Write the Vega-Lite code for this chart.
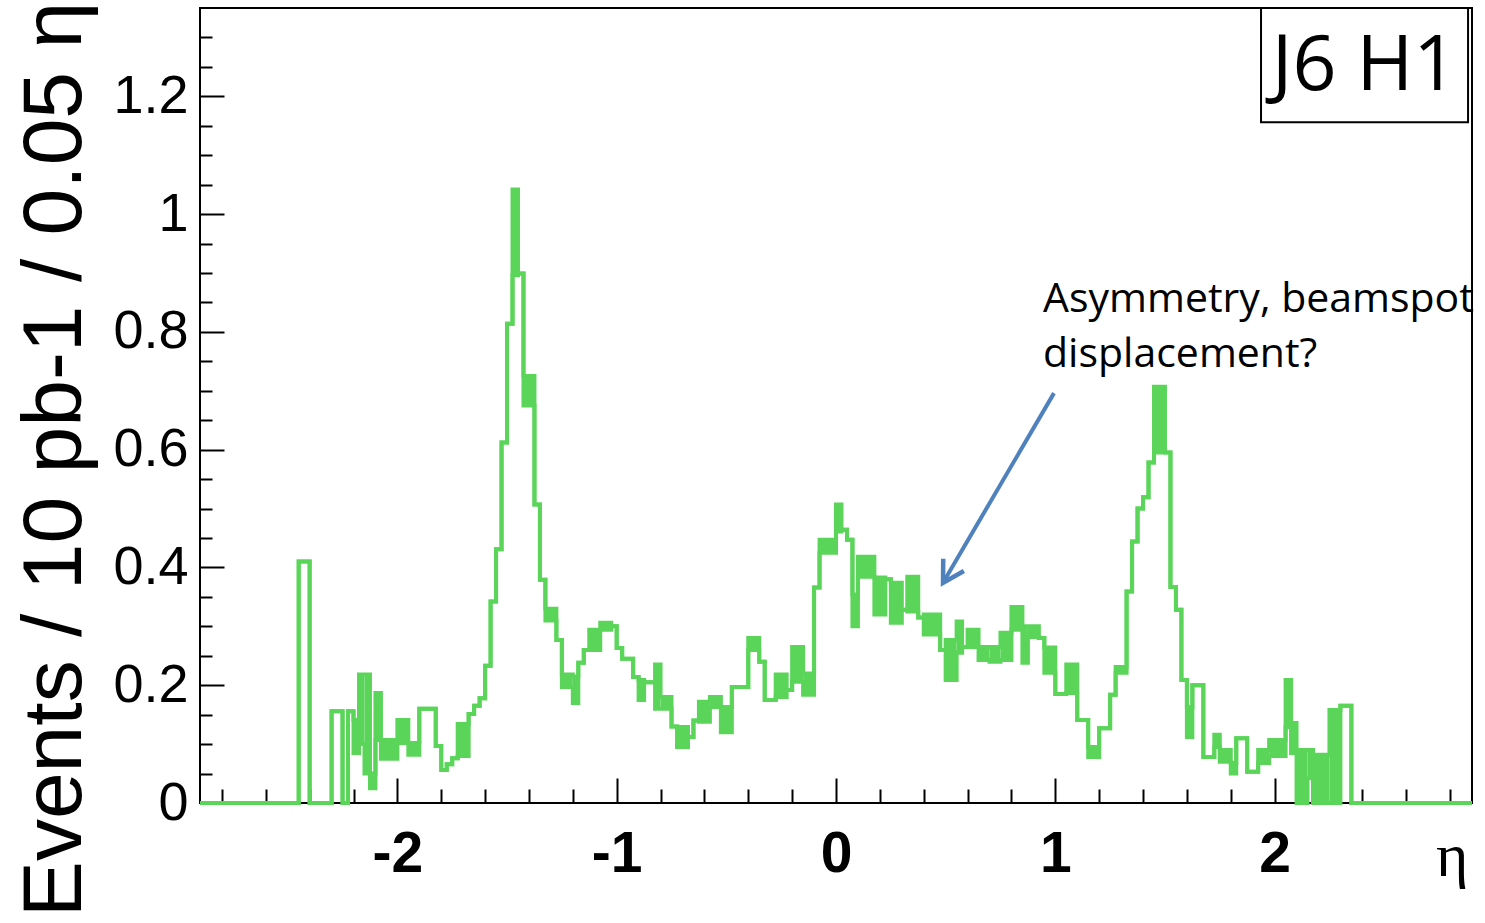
{
  "$schema": "https://vega.github.io/schema/vega-lite/v6.json",
  "width": 1272,
  "height": 795,
  "autosize": "none",
  "padding": {"left": 200, "top": 8, "right": 13, "bottom": 120},
  "background": "white",
  "config": {
    "view": {"stroke": "#000", "strokeWidth": 2},
    "axis": {"domain": false, "grid": false, "tickColor": "#000", "tickWidth": 2, "labelColor": "#000", "titleColor": "#000", "labelFlush": false, "labelOverlap": false}
  },
  "datasets": {
    "hist": [
      {"x0": -2.9, "x1": -2.45, "lo": 0, "hi": 0},
      {"x0": -2.45, "x1": -2.4, "lo": 0.41, "hi": 0.41},
      {"x0": -2.4, "x1": -2.3, "lo": 0, "hi": 0},
      {"x0": -2.3, "x1": -2.25, "lo": 0.156, "hi": 0.156},
      {"x0": -2.25, "x1": -2.225, "lo": 0, "hi": 0},
      {"x0": -2.225, "x1": -2.2, "lo": 0.156, "hi": 0.156},
      {"x0": -2.2, "x1": -2.175, "lo": 0.085, "hi": 0.141},
      {"x0": -2.175, "x1": -2.15, "lo": 0.1, "hi": 0.218},
      {"x0": -2.15, "x1": -2.125, "lo": 0.05, "hi": 0.218},
      {"x0": -2.125, "x1": -2.1, "lo": 0.025, "hi": 0.05},
      {"x0": -2.1, "x1": -2.075, "lo": 0.107, "hi": 0.187},
      {"x0": -2.075, "x1": -2.0, "lo": 0.075, "hi": 0.107},
      {"x0": -2.0, "x1": -1.95, "lo": 0.102, "hi": 0.141},
      {"x0": -1.95, "x1": -1.9, "lo": 0.082, "hi": 0.102},
      {"x0": -1.9, "x1": -1.825, "lo": 0.16, "hi": 0.16},
      {"x0": -1.825, "x1": -1.8, "lo": 0.097, "hi": 0.097},
      {"x0": -1.8, "x1": -1.775, "lo": 0.056, "hi": 0.056},
      {"x0": -1.775, "x1": -1.75, "lo": 0.066, "hi": 0.066},
      {"x0": -1.75, "x1": -1.725, "lo": 0.076, "hi": 0.076},
      {"x0": -1.725, "x1": -1.675, "lo": 0.08, "hi": 0.134},
      {"x0": -1.675, "x1": -1.65, "lo": 0.151, "hi": 0.151},
      {"x0": -1.65, "x1": -1.625, "lo": 0.165, "hi": 0.165},
      {"x0": -1.625, "x1": -1.6, "lo": 0.178, "hi": 0.178},
      {"x0": -1.6, "x1": -1.575, "lo": 0.233, "hi": 0.233},
      {"x0": -1.575, "x1": -1.55, "lo": 0.342, "hi": 0.342},
      {"x0": -1.55, "x1": -1.525, "lo": 0.431, "hi": 0.431},
      {"x0": -1.525, "x1": -1.5, "lo": 0.612, "hi": 0.612},
      {"x0": -1.5, "x1": -1.475, "lo": 0.814, "hi": 0.814},
      {"x0": -1.475, "x1": -1.45, "lo": 0.896, "hi": 1.042},
      {"x0": -1.45, "x1": -1.425, "lo": 0.899, "hi": 0.899},
      {"x0": -1.425, "x1": -1.375, "lo": 0.675, "hi": 0.725},
      {"x0": -1.375, "x1": -1.35, "lo": 0.507, "hi": 0.507},
      {"x0": -1.35, "x1": -1.325, "lo": 0.379, "hi": 0.379},
      {"x0": -1.325, "x1": -1.275, "lo": 0.31, "hi": 0.33},
      {"x0": -1.275, "x1": -1.25, "lo": 0.277, "hi": 0.277},
      {"x0": -1.25, "x1": -1.2, "lo": 0.197, "hi": 0.218},
      {"x0": -1.2, "x1": -1.175, "lo": 0.17, "hi": 0.215},
      {"x0": -1.175, "x1": -1.15, "lo": 0.238, "hi": 0.238},
      {"x0": -1.15, "x1": -1.125, "lo": 0.26, "hi": 0.26},
      {"x0": -1.125, "x1": -1.075, "lo": 0.26, "hi": 0.294},
      {"x0": -1.075, "x1": -1.025, "lo": 0.294, "hi": 0.306},
      {"x0": -1.025, "x1": -1.0, "lo": 0.3, "hi": 0.3},
      {"x0": -1.0, "x1": -0.975, "lo": 0.263, "hi": 0.263},
      {"x0": -0.975, "x1": -0.925, "lo": 0.245, "hi": 0.245},
      {"x0": -0.925, "x1": -0.9, "lo": 0.214, "hi": 0.214},
      {"x0": -0.9, "x1": -0.875, "lo": 0.175, "hi": 0.209},
      {"x0": -0.875, "x1": -0.825, "lo": 0.205, "hi": 0.205},
      {"x0": -0.825, "x1": -0.8, "lo": 0.16, "hi": 0.235},
      {"x0": -0.8, "x1": -0.75, "lo": 0.16, "hi": 0.18},
      {"x0": -0.75, "x1": -0.725, "lo": 0.13, "hi": 0.13},
      {"x0": -0.725, "x1": -0.675, "lo": 0.095, "hi": 0.129},
      {"x0": -0.675, "x1": -0.65, "lo": 0.112, "hi": 0.112},
      {"x0": -0.65, "x1": -0.625, "lo": 0.14, "hi": 0.14},
      {"x0": -0.625, "x1": -0.575, "lo": 0.138, "hi": 0.172},
      {"x0": -0.575, "x1": -0.525, "lo": 0.163, "hi": 0.18},
      {"x0": -0.525, "x1": -0.475, "lo": 0.12, "hi": 0.163},
      {"x0": -0.475, "x1": -0.4, "lo": 0.197, "hi": 0.197},
      {"x0": -0.4, "x1": -0.35, "lo": 0.26, "hi": 0.28},
      {"x0": -0.35, "x1": -0.325, "lo": 0.24, "hi": 0.24},
      {"x0": -0.325, "x1": -0.275, "lo": 0.175, "hi": 0.175},
      {"x0": -0.275, "x1": -0.225, "lo": 0.18, "hi": 0.218},
      {"x0": -0.225, "x1": -0.2, "lo": 0.192, "hi": 0.192},
      {"x0": -0.2, "x1": -0.15, "lo": 0.206, "hi": 0.265},
      {"x0": -0.15, "x1": -0.1, "lo": 0.184, "hi": 0.22},
      {"x0": -0.1, "x1": -0.075, "lo": 0.366, "hi": 0.366},
      {"x0": -0.075, "x1": 0, "lo": 0.425, "hi": 0.447},
      {"x0": 0, "x1": 0.025, "lo": 0.461, "hi": 0.507},
      {"x0": 0.025, "x1": 0.05, "lo": 0.464, "hi": 0.464},
      {"x0": 0.05, "x1": 0.075, "lo": 0.447, "hi": 0.447},
      {"x0": 0.075, "x1": 0.1, "lo": 0.3, "hi": 0.354},
      {"x0": 0.1, "x1": 0.175, "lo": 0.384, "hi": 0.418},
      {"x0": 0.175, "x1": 0.225, "lo": 0.32, "hi": 0.383},
      {"x0": 0.225, "x1": 0.25, "lo": 0.38, "hi": 0.38},
      {"x0": 0.25, "x1": 0.3, "lo": 0.306, "hi": 0.374},
      {"x0": 0.3, "x1": 0.325, "lo": 0.328, "hi": 0.328},
      {"x0": 0.325, "x1": 0.375, "lo": 0.325, "hi": 0.384},
      {"x0": 0.375, "x1": 0.4, "lo": 0.315, "hi": 0.315},
      {"x0": 0.4, "x1": 0.475, "lo": 0.286, "hi": 0.32},
      {"x0": 0.475, "x1": 0.5, "lo": 0.26, "hi": 0.26},
      {"x0": 0.5, "x1": 0.55, "lo": 0.209, "hi": 0.277},
      {"x0": 0.55, "x1": 0.575, "lo": 0.255, "hi": 0.308},
      {"x0": 0.575, "x1": 0.6, "lo": 0.265, "hi": 0.265},
      {"x0": 0.6, "x1": 0.65, "lo": 0.265, "hi": 0.294},
      {"x0": 0.65, "x1": 0.7, "lo": 0.243, "hi": 0.265},
      {"x0": 0.7, "x1": 0.75, "lo": 0.24, "hi": 0.265},
      {"x0": 0.75, "x1": 0.8, "lo": 0.243, "hi": 0.289},
      {"x0": 0.8, "x1": 0.85, "lo": 0.294, "hi": 0.333},
      {"x0": 0.85, "x1": 0.875, "lo": 0.238, "hi": 0.3},
      {"x0": 0.875, "x1": 0.925, "lo": 0.282, "hi": 0.3},
      {"x0": 0.925, "x1": 0.95, "lo": 0.28, "hi": 0.28},
      {"x0": 0.95, "x1": 1.0, "lo": 0.221, "hi": 0.264},
      {"x0": 1.0, "x1": 1.05, "lo": 0.185, "hi": 0.185},
      {"x0": 1.05, "x1": 1.1, "lo": 0.187, "hi": 0.235},
      {"x0": 1.1, "x1": 1.15, "lo": 0.141, "hi": 0.141},
      {"x0": 1.15, "x1": 1.2, "lo": 0.078, "hi": 0.095},
      {"x0": 1.2, "x1": 1.25, "lo": 0.127, "hi": 0.127},
      {"x0": 1.25, "x1": 1.275, "lo": 0.184, "hi": 0.184},
      {"x0": 1.275, "x1": 1.325, "lo": 0.221, "hi": 0.231},
      {"x0": 1.325, "x1": 1.35, "lo": 0.359, "hi": 0.359},
      {"x0": 1.35, "x1": 1.375, "lo": 0.444, "hi": 0.444},
      {"x0": 1.375, "x1": 1.4, "lo": 0.5, "hi": 0.5},
      {"x0": 1.4, "x1": 1.425, "lo": 0.519, "hi": 0.519},
      {"x0": 1.425, "x1": 1.45, "lo": 0.578, "hi": 0.578},
      {"x0": 1.45, "x1": 1.5, "lo": 0.595, "hi": 0.707},
      {"x0": 1.5, "x1": 1.525, "lo": 0.595, "hi": 0.595},
      {"x0": 1.525, "x1": 1.55, "lo": 0.367, "hi": 0.367},
      {"x0": 1.55, "x1": 1.575, "lo": 0.328, "hi": 0.328},
      {"x0": 1.575, "x1": 1.6, "lo": 0.209, "hi": 0.209},
      {"x0": 1.6, "x1": 1.625, "lo": 0.112, "hi": 0.163},
      {"x0": 1.625, "x1": 1.675, "lo": 0.2, "hi": 0.2},
      {"x0": 1.675, "x1": 1.725, "lo": 0.078, "hi": 0.078},
      {"x0": 1.725, "x1": 1.75, "lo": 0.095, "hi": 0.116},
      {"x0": 1.75, "x1": 1.8, "lo": 0.07, "hi": 0.09},
      {"x0": 1.8, "x1": 1.825, "lo": 0.05, "hi": 0.068},
      {"x0": 1.825, "x1": 1.875, "lo": 0.11, "hi": 0.11},
      {"x0": 1.875, "x1": 1.925, "lo": 0.053, "hi": 0.053},
      {"x0": 1.925, "x1": 1.975, "lo": 0.068, "hi": 0.09},
      {"x0": 1.975, "x1": 2.05, "lo": 0.08, "hi": 0.107},
      {"x0": 2.05, "x1": 2.075, "lo": 0.129, "hi": 0.209},
      {"x0": 2.075, "x1": 2.1, "lo": 0.085, "hi": 0.136},
      {"x0": 2.1, "x1": 2.15, "lo": 0, "hi": 0.09},
      {"x0": 2.15, "x1": 2.175, "lo": 0.042, "hi": 0.09},
      {"x0": 2.175, "x1": 2.25, "lo": 0, "hi": 0.082},
      {"x0": 2.25, "x1": 2.3, "lo": 0, "hi": 0.158},
      {"x0": 2.3, "x1": 2.35, "lo": 0.165, "hi": 0.165},
      {"x0": 2.35, "x1": 2.9, "lo": 0, "hi": 0},
      {"x0": 2.9, "x1": 2.9, "lo": 0, "hi": 0}
    ],
    "notes": [
      {"x": 0.944, "y": 0.834, "label": "Asymmetry, beamspot"},
      {"x": 0.944, "y": 0.741, "label": "displacement?"}
    ],
    "arrow": [
      {"x0": 0.994, "y0": 0.696, "x1": 0.488, "y1": 0.374}
    ],
    "box": [
      {"bx0": 1.938, "bx1": 2.882, "by0": 1.35, "by1": 1.156, "tx": 2.41, "ty": 1.2107, "label": "J6 H1"}
    ]
  },
  "resolve": {"axis": {"x": "independent", "y": "independent"}},
  "layer": [
    {
      "data": {"name": "hist"},
      "mark": {"type": "rect", "color": "#5ad55a"},
      "encoding": {
        "x": {"field": "x0", "type": "quantitative", "scale": {"domain": [-2.9, 2.9], "nice": false, "zero": false},
          "axis": {"orient": "bottom", "values": [-2.8, -2.6, -2.4, -2.2, -1.8, -1.6, -1.4, -1.2, -0.8, -0.6, -0.4, -0.2, 0.2, 0.4, 0.6, 0.8, 1.2, 1.4, 1.6, 1.8, 2.2, 2.4, 2.6, 2.8], "tickSize": -14, "labels": false, "title": null}},
        "x2": {"field": "x1"},
        "y": {"field": "lo", "type": "quantitative", "scale": {"domain": [0, 1.35], "nice": false, "zero": false},
          "axis": {"orient": "left", "values": [0.05, 0.1, 0.15, 0.25, 0.3, 0.35, 0.45, 0.5, 0.55, 0.65, 0.7, 0.75, 0.85, 0.9, 0.95, 1.05, 1.1, 1.15, 1.25, 1.3], "tickSize": -12, "labels": false, "title": null}},
        "y2": {"field": "hi"}
      }
    },
    {
      "data": {"name": "hist"},
      "mark": {"type": "line", "interpolate": "step-after", "color": "#5ad55a", "strokeWidth": 4},
      "encoding": {
        "x": {"field": "x0", "type": "quantitative",
          "axis": {"orient": "bottom", "values": [-2, -1, 0, 1, 2], "tickSize": -25, "labelExpr": "toString(datum.value)",
            "labelFont": "Liberation Sans", "labelFontSize": 57, "labelFontWeight": "bold", "labelBaseline": "top", "labelPadding": 48,
            "title": "η", "titleFont": "Liberation Serif", "titleFontSize": 62, "titleFontWeight": "normal",
            "titleAnchor": "end", "titleAlign": "right", "titleBaseline": "alphabetic", "titleX": 1268, "titleY": 72}},
        "y": {"field": "hi", "type": "quantitative",
          "axis": {"orient": "left", "values": [0, 0.2, 0.4, 0.6, 0.8, 1, 1.2], "tickSize": -24, "labelExpr": "toString(datum.value)",
            "labelFont": "Liberation Sans", "labelFontSize": 54, "labelFontWeight": "normal", "labelPadding": 36, "labelAlign": "right", "labelBaseline": "middle",
            "title": "Events / 10 pb-1 / 0.05 η", "titleFont": "Liberation Sans", "titleFontSize": 84, "titleFontWeight": "normal",
            "titleAngle": 270, "titleAlign": "center", "titleBaseline": "alphabetic", "titleX": -120, "titleY": 451}}
      }
    },
    {
      "data": {"name": "hist"},
      "mark": {"type": "line", "interpolate": "step-after", "color": "#5ad55a", "strokeWidth": 4},
      "encoding": {
        "x": {"field": "x0", "type": "quantitative", "axis": null},
        "y": {"field": "lo", "type": "quantitative", "axis": null}
      }
    },
    {
      "data": {"name": "notes"},
      "mark": {"type": "text", "align": "left", "baseline": "alphabetic", "font": "Open Sans", "fontSize": 41, "color": "#000"},
      "encoding": {
        "x": {"field": "x", "type": "quantitative", "axis": null},
        "y": {"field": "y", "type": "quantitative", "axis": null},
        "text": {"field": "label"}
      }
    },
    {
      "data": {"name": "arrow"},
      "mark": {"type": "rule", "color": "#4f81bd", "strokeWidth": 4},
      "encoding": {
        "x": {"field": "x0", "type": "quantitative", "axis": null},
        "y": {"field": "y0", "type": "quantitative", "axis": null},
        "x2": {"field": "x1"},
        "y2": {"field": "y1"}
      }
    },
    {
      "data": {"name": "arrow"},
      "mark": {"type": "point", "shape": "M-0.5,-0.866L0,0L0.5,-0.866", "filled": false, "color": "#4f81bd", "strokeWidth": 4.5, "size": 2300, "angle": 30.5, "opacity": 1},
      "encoding": {
        "x": {"field": "x1", "type": "quantitative", "axis": null},
        "y": {"field": "y1", "type": "quantitative", "axis": null}
      }
    },
    {
      "data": {"name": "box"},
      "mark": {"type": "rect", "fill": "white", "stroke": "#000", "strokeWidth": 2},
      "encoding": {
        "x": {"field": "bx0", "type": "quantitative", "axis": null},
        "x2": {"field": "bx1"},
        "y": {"field": "by0", "type": "quantitative", "axis": null},
        "y2": {"field": "by1"}
      }
    },
    {
      "data": {"name": "box"},
      "mark": {"type": "text", "align": "center", "baseline": "alphabetic", "font": "Open Sans", "fontSize": 77, "color": "#000"},
      "encoding": {
        "x": {"field": "tx", "type": "quantitative", "axis": null},
        "y": {"field": "ty", "type": "quantitative", "axis": null},
        "text": {"field": "label"}
      }
    }
  ]
}
